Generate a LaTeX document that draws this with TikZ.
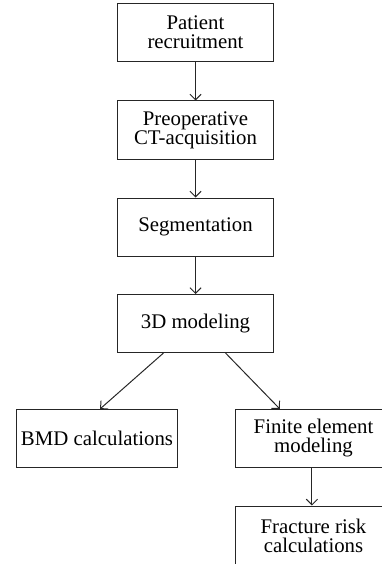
\documentclass[tikz,border=0pt]{standalone}
\usepackage{fontspec}
\setmainfont{Liberation Serif}
\usetikzlibrary{arrows.meta}
\tikzset{
	box/.style={draw=black!85, line width=0.7pt, rectangle, align=center,
		minimum width=3.875cm, minimum height=1.45cm, inner sep=2pt,
		font=\fontsize{14.8}{13.5}\selectfont},
	pfeil/.style={draw=black!85, line width=0.7pt, -{Straight Barb[length=4pt,width=8pt]}}
}
\begin{document}
\begin{tikzpicture}[x=0.025cm, y=-0.025cm]
		\useasboundingbox (0,0) rectangle (381,564);
		% Kaesten
		\node[box] (patient) at (195.5,32.5) {Patient\\recruitment};
		\node[box] (ct) at (195.5,130) {Preoperative\\CT-acquisition};
		\node[box] (seg) at (195.5,227) {Segmentation};
		\node[box] (model) at (195.5,323.5) {3D modeling};
		\node[box, minimum width=4cm] (bmd) at (97,438.5) {BMD calculations};
		\node[box] (fem) at (313.5,438.5) {Finite element\\modeling};
		\node[box, minimum height=1.5cm] (risk) at (313.5,536) {Fracture risk\\calculations};
		% Pfeile
		\draw[pfeil] (patient) -- (ct);
		\draw[pfeil] (ct) -- (seg);
		\draw[pfeil] (seg) -- (model);
		\draw[pfeil] ([xshift=-0.8cm]model.south) -- ([xshift=0.075cm]bmd.north);
		\draw[pfeil] ([xshift=0.75cm]model.south) -- ([xshift=-0.84cm]fem.north);
		\draw[pfeil] ([xshift=-0.04cm]fem.south) -- ([xshift=-0.04cm]risk.north);
	\end{tikzpicture}
\end{document}
